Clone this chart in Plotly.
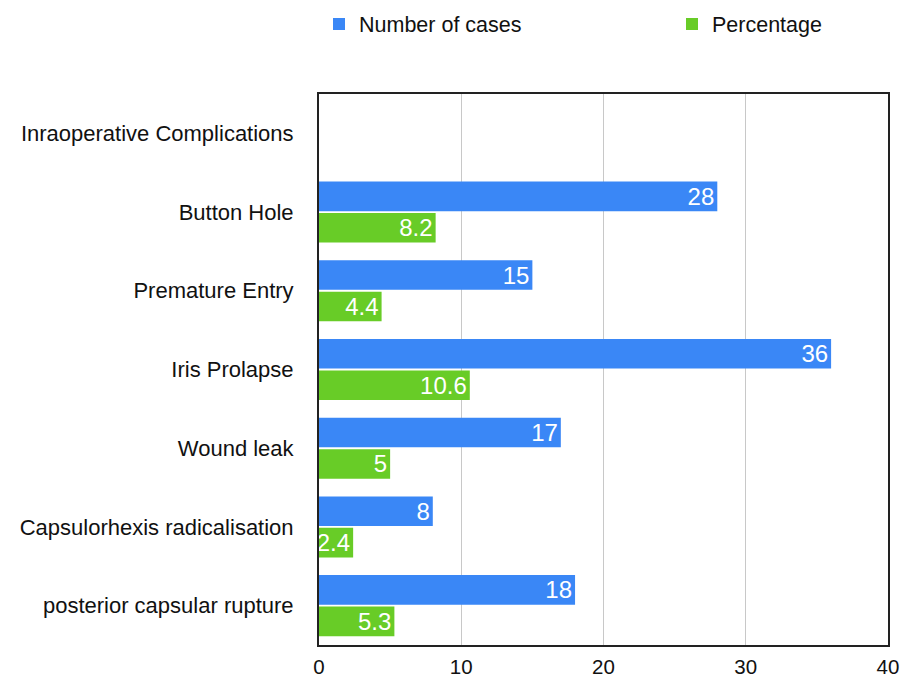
import plotly.graph_objects as go

categories = ["Inraoperative Complications", "Button Hole", "Premature Entry", "Iris Prolapse",
              "Wound leak", "Capsulorhexis radicalisation", "posterior capsular rupture"]
cases = [None, 28, 15, 36, 17, 8, 18]
percentage = [None, 8.2, 4.4, 10.6, 5, 2.4, 5.3]
x_ticks = [0, 10, 20, 30, 40]

BLUE = "#3a87f6"
GREEN = "#68cc27"
FONT = "Liberation Sans, Arial, sans-serif"
W, H = 903, 681

def labels(vals):
    return ["" if v is None else f"{v:g}" for v in vals]

fig = go.Figure()
fig.add_trace(go.Bar(
    y=categories, x=cases, name="Number of cases", orientation="h",
    marker=dict(color=BLUE, line=dict(width=0)),
    text=labels(cases), textposition="inside", insidetextanchor="end", textangle=0,
    textfont=dict(color="white", size=24, family=FONT), constraintext="none",
    legend="legend", showlegend=True,
))
fig.add_trace(go.Bar(
    y=categories, x=percentage, name="Percentage", orientation="h",
    marker=dict(color=GREEN, line=dict(width=0)),
    text=labels(percentage), textposition="inside", insidetextanchor="end", textangle=0,
    textfont=dict(color="white", size=24, family=FONT), constraintext="none",
    legend="legend2", showlegend=True,
))

legend_common = dict(orientation="h", xanchor="left", yanchor="middle",
                     xref="container", yref="container",
                     font=dict(size=21.5, family=FONT, color="#111111"),
                     bgcolor="rgba(0,0,0,0)")

fig.update_layout(
    width=W, height=H, showlegend=True,
    margin=dict(l=319, r=15, t=94, b=36, autoexpand=False),
    paper_bgcolor="white", plot_bgcolor="white",
    font=dict(family=FONT, color="#111111"),
    barmode="group", bargap=0.2, bargroupgap=0.06,
    legend=dict(x=319 / W, y=1 - 24 / H, **legend_common),
    legend2=dict(x=672 / W, y=1 - 24 / H, **legend_common),
    xaxis=dict(range=[0, 40], tickvals=x_ticks, showgrid=True, gridcolor="#c8c8c8",
               gridwidth=1, showline=True, linecolor="#222222", linewidth=2, mirror=True,
               zeroline=False, tickfont=dict(size=20.5, family=FONT, color="#111111"),
               ticks="outside", ticklen=2, tickcolor="rgba(0,0,0,0)", automargin=False),
    yaxis=dict(categoryorder="array", categoryarray=categories, autorange="reversed",
               showline=True, linecolor="#222222", linewidth=2, mirror=True,
               showgrid=False, tickfont=dict(size=22, family=FONT, color="#111111"),
               ticks="outside", ticklen=19, tickcolor="rgba(0,0,0,0)", automargin=False),
)

fig.write_html("out.html", config={"displayModeBar": False},
               post_script="document.body.style.margin='0';document.body.style.overflow='hidden';")
